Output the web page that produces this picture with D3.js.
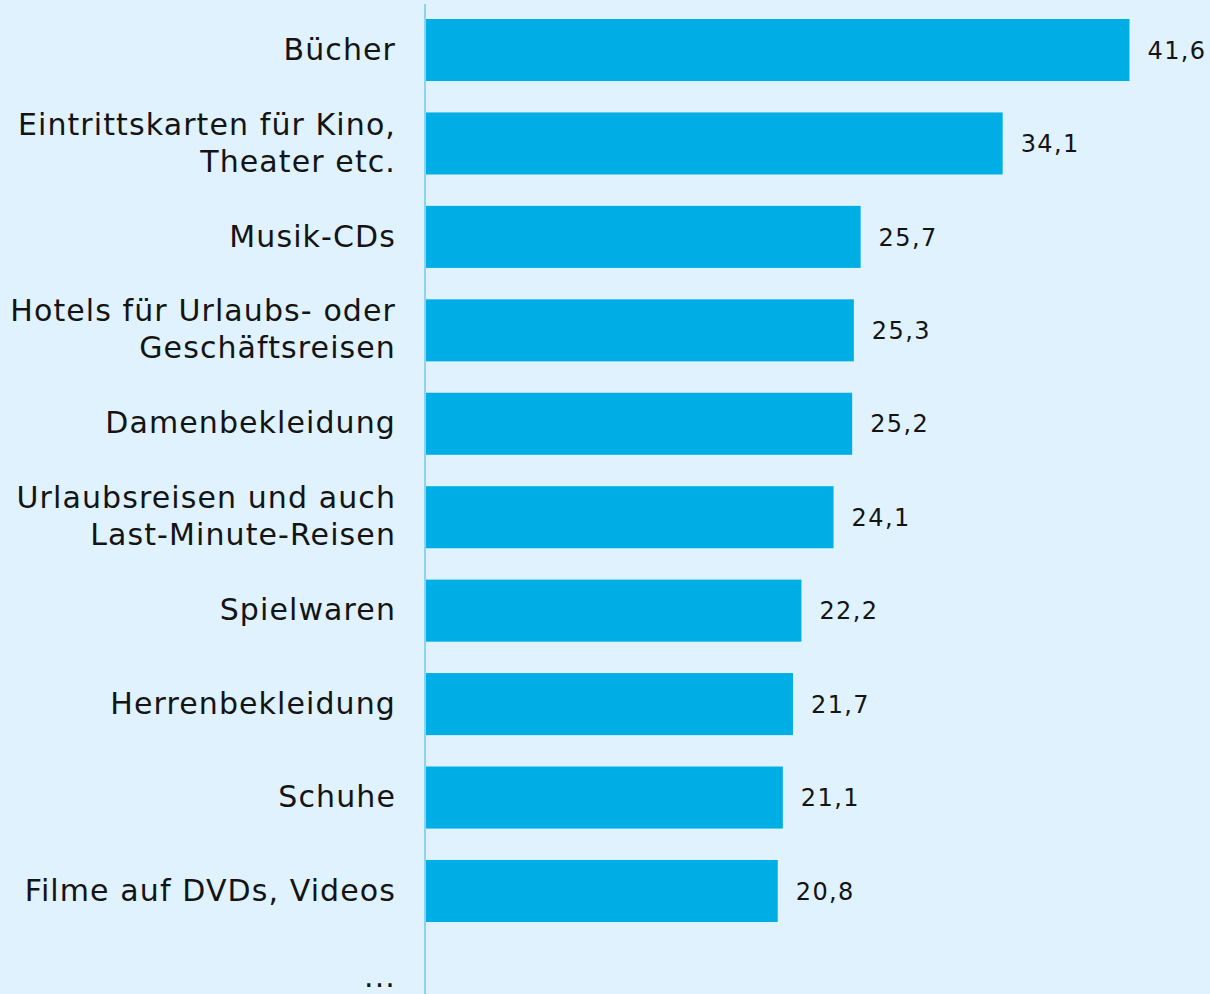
<!DOCTYPE html>
<html><head><meta charset="utf-8">
<script src="https://cdn.jsdelivr.net/npm/d3@7"></script>
<style>
html,body{margin:0;padding:0;background:#dff2fd;}
svg{display:block;}
text{font-family:"DejaVu Sans",sans-serif;fill:#141414;}
</style></head>
<body>
<script>
const categories = [
  "Bücher",
  "Eintrittskarten für Kino,\nTheater etc.",
  "Musik-CDs",
  "Hotels für Urlaubs- oder\nGeschäftsreisen",
  "Damenbekleidung",
  "Urlaubsreisen und auch\nLast-Minute-Reisen",
  "Spielwaren",
  "Herrenbekleidung",
  "Schuhe",
  "Filme auf DVDs, Videos",
  "..."
];
const values = [41.6, 34.1, 25.7, 25.3, 25.2, 24.1, 22.2, 21.7, 21.1, 20.8, null];

const W = 1210, H = 994;
const svg = d3.select("body").append("svg").attr("width", W).attr("height", H);
svg.append("rect").attr("width", W).attr("height", H).attr("fill", "#dff2fd");

const x0 = 426;
const x = d3.scaleLinear().domain([0, 41.6]).range([x0, 1129.5]);
const y = d3.scaleBand().domain(categories).range([3.3, 3.3 + 11 * 93.44]).paddingInner(0.336).paddingOuter(0.168);

const fmt = v => d3.format(".1f")(v).replace(".", ",");

// axis line
svg.append("line").attr("x1", x0 - 1).attr("x2", x0 - 1).attr("y1", 4).attr("y2", H)
  .attr("stroke", "#8dd2ee").attr("stroke-width", 2);

const data = categories.map((c, i) => ({c, v: values[i]}));

svg.selectAll("rect.bar").data(data.filter(d => d.v != null)).join("rect")
  .attr("class", "bar")
  .attr("x", x0).attr("y", d => y(d.c))
  .attr("width", d => x(d.v) - x0).attr("height", y.bandwidth())
  .attr("fill", "#00aee6");

svg.selectAll("text.val").data(data.filter(d => d.v != null)).join("text")
  .attr("class", "val")
  .attr("x", d => x(d.v) + 18).attr("y", d => y(d.c) + y.bandwidth() / 2)
  .attr("dy", "0.36em")
  .style("font-size", "24px").style("letter-spacing", "1.4px")
  .text(d => fmt(d.v));

const lh = 37;
svg.selectAll("text.cat").data(data).join("text")
  .attr("class", "cat")
  .attr("text-anchor", "end")
  .style("font-size", "30px").style("letter-spacing", "1.1px")
  .each(function(d) {
    const lines = d.c.split("\n");
    const cy = y(d.c) + y.bandwidth() / 2;
    const t = d3.select(this);
    lines.forEach((l, j) => {
      const ty = t.append("tspan").attr("x", 396);
      if (d.v == null) {
        ty.attr("y", 987);
      } else {
        ty.attr("y", cy + (j - (lines.length - 1) / 2) * lh).attr("dy", "0.32em");
      }
      ty.text(l);
    });
  });
</script>
</body></html>
